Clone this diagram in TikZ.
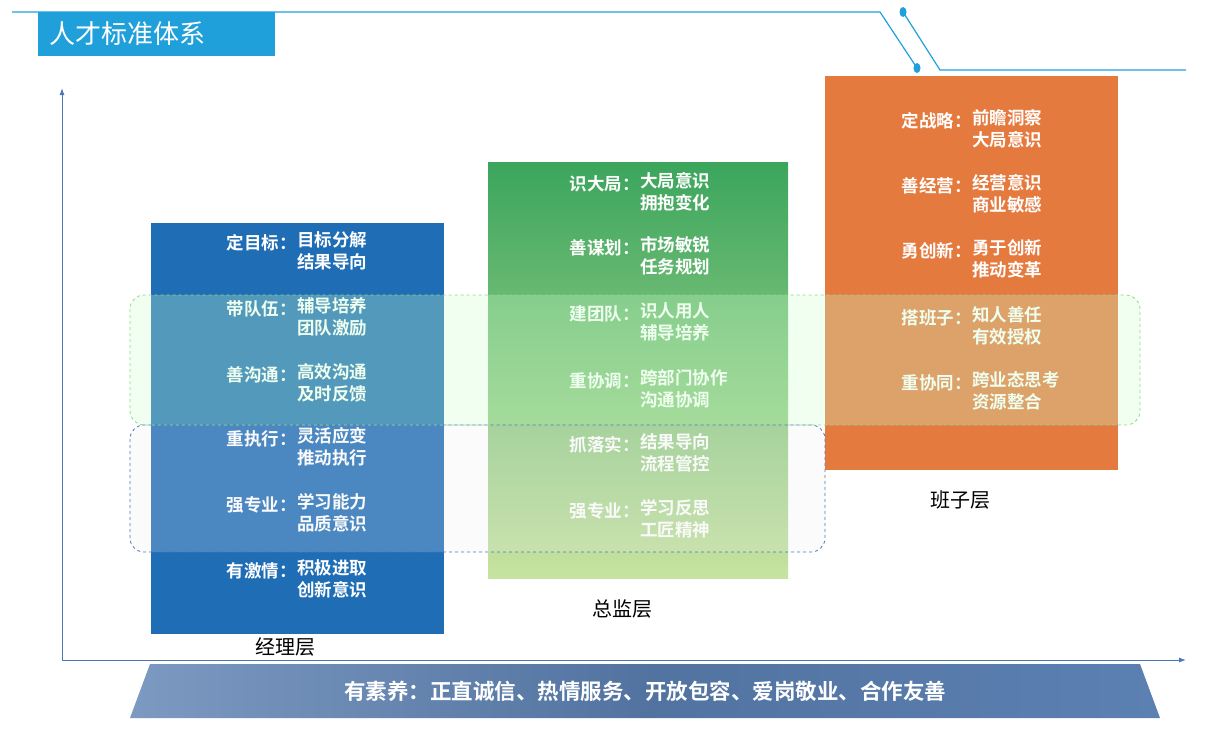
\documentclass[tikz,border=0pt]{standalone}
\usepackage{fontspec}
\setmainfont{Noto Sans CJK SC}[BoldFont={Noto Sans CJK SC Bold}]
\usetikzlibrary{arrows.meta}
\definecolor{tblue}{HTML}{20A0DA}
\definecolor{mblue}{HTML}{1F6DB5}
\definecolor{gtop}{HTML}{3BA55C}
\definecolor{gbot}{HTML}{C8E3A0}
\definecolor{orng}{HTML}{E57A3F}
\definecolor{barc}{HTML}{5B80B2}
\definecolor{axisc}{HTML}{4A78B8}
\tikzset{
  lab/.style={anchor=east,text=white,font=\bfseries\fontsize{17.5}{19}\selectfont,inner sep=0pt},
  val/.style={anchor=north west,text=white,font=\bfseries\fontsize{17.5}{22}\selectfont,inner sep=0pt,align=left},
  lvl/.style={font=\fontsize{20}{22}\selectfont,text=black},
  band/.style={dashed,rounded corners=14pt,line width=0.8pt}
}
\begin{document}
\begin{tikzpicture}[x=1pt,y=-1pt]
\useasboundingbox (0,0) rectangle (1212,728);
% header lines
\coordinate (l0) at (12,12); \coordinate (l1) at (880,12); \coordinate (d1) at (917,68);
\coordinate (d2) at (903,12); \coordinate (l2) at (940,70); \coordinate (l3) at (1186,70);
\draw[tblue,line width=1.2pt] (l0) -- (l1) -- (d1);
\draw[tblue,line width=1.2pt] (d2) -- (l2) -- (l3);
\fill[tblue] (d1) ellipse (3.5pt and 5pt);
\fill[tblue] (d2) ellipse (3.5pt and 5pt);
\node[fill=tblue,minimum width=237pt,minimum height=44pt,anchor=north west,inner sep=0pt] (title) at (38,12) {};
\node[anchor=west,text=white,font=\fontsize{26}{28}\selectfont] (titletxt) at (46,34) {人才标准体系};
% axes
\coordinate (o) at (62,660); \coordinate (yt) at (62,88); \coordinate (xt) at (1186,660);
\draw[axisc,line width=1pt,-{Latex[length=7pt,width=5pt]}] (o) -- (yt);
\draw[axisc,line width=1pt,-{Latex[length=7pt,width=5pt]}] (o) -- (xt);
% bottom bar
\shade[left color=barc!80!white,right color=barc,middle color=barc!90!black] (150,664) -- (1140,664) -- (1160,718) -- (130,718) -- cycle;
\node[text=white,font=\bfseries\fontsize{21.5}{23}\selectfont] (bar) at (645,691) {有素养：正直诚信、热情服务、开放包容、爱岗敬业、合作友善};
% columns
\fill[mblue] (151,223) rectangle (444,634);
\shade[top color=gtop,bottom color=gbot] (488,162) rectangle (788,578);
\fill[orng] (825,76) rectangle (1118,470);
% texts
\foreach \n/\x/\y/\a/\b/\c in {
 b1/297/243/定目标/目标分解/结果导向, b2/297/309/带队伍/辅导培养/团队激励, b3/297/375/善沟通/高效沟通/及时反馈,
 b4/297/439/重执行/灵活应变/推动执行, b5/297/505/强专业/学习能力/品质意识, b6/297/571/有激情/积极进取/创新意识,
 g1/640/184/识大局/大局意识/拥抱变化, g2/640/248/善谋划/市场敏锐/任务规划, g3/640/314/建团队/识人用人/辅导培养,
 g4/640/381/重协调/跨部门协作/沟通协调, g5/640/445/抓落实/结果导向/流程管控, g6/640/511/强专业/学习反思/工匠精神,
 o1/972/121/定战略/前瞻洞察/大局意识, o2/972/186/善经营/经营意识/商业敏感, o3/972/251/勇创新/勇于创新/推动变革,
 o4/972/318/搭班子/知人善任/有效授权, o5/972/383/重协同/跨业态思考/资源整合}{
  \node[lab] (\n l) at (\x,\y) {\a：};
  \node[val] (\n v) at (\x,\y-12) {\b\\\c};
}
% bands
\draw[band,draw=green!45!gray!60,fill=green!20!white,fill opacity=0.3] (130,295) rectangle (1140,425);
\draw[band,draw=axisc,fill=blue!6!gray!15!white,fill opacity=0.22] (130,425) rectangle (825,552);
% level labels
\node[lvl] (jl) at (285,647) {经理层};
\node[lvl] (zj) at (622,609) {总监层};
\node[lvl] (bz) at (960,500) {班子层};
\end{tikzpicture}
\end{document}
